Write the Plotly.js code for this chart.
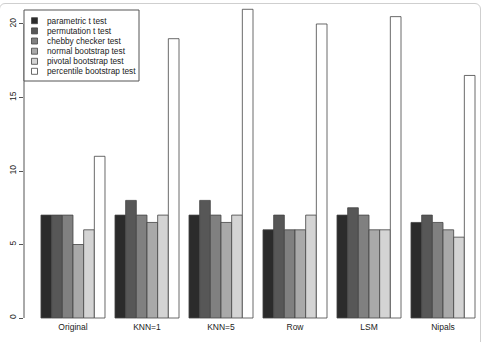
<!DOCTYPE html>
<html>
<head>
<meta charset="utf-8">
<script src="https://cdn.plot.ly/plotly-3.0.1.min.js"></script>
<style>
html,body{margin:0;padding:0;background:#fff;overflow:hidden;}
#frame{position:absolute;left:-1px;top:3px;width:480px;height:360px;border:1px solid #cfcfcf;border-radius:6px;pointer-events:none;z-index:10;}
#chart{position:absolute;left:0;top:0;width:481px;height:342px;}
</style>
</head>
<body>
<div id="chart"></div>
<div id="frame"></div>
<script>
var categories = ["Original", "KNN=1", "KNN=5", "Row", "LSM", "Nipals"];
var seriesNames = ["parametric t test", "permutation t test", "chebby checker test",
                   "normal bootstrap test", "pivotal bootstrap test", "percentile bootstrap test"];
var parametric = [7, 7, 7, 6, 7, 6.5];
var permutation = [7, 8, 8, 7, 7.5, 7];
var chebby = [7, 7, 7, 6, 7, 6.5];
var normalBoot = [5, 6.5, 6.5, 6, 6, 6];
var pivotalBoot = [6, 7, 7, 7, 6, 5.5];
var percentileBoot = [11, 19, 21, 20, 20.5, 16.5];
var yTicks = [0, 5, 10, 15, 20];

var seriesValues = [parametric, permutation, chebby, normalBoot, pivotalBoot, percentileBoot];
var colors = ["#2b2b2b", "#575757", "#808080", "#a9a9a9", "#d4d4d4", "#ffffff"];

var traces = seriesValues.map(function(vals, i) {
  return {
    type: "bar",
    name: seriesNames[i],
    x: categories,
    y: vals,
    marker: {color: colors[i], line: {color: "#444", width: 0.8}},
    showlegend: false,
    hoverinfo: "skip"
  };
});

// pixel helpers for plot area (left 24, right 478, top 4, bottom 320)
var L = 24, R = 478, T = 4, B = 320;
function px2x(px) { return (px - L) / (R - L); }
function py2y(py) { return (B - py) / (B - T); }

var shapes = [];
var annotations = [];
// y axis line spanning tick range (R style)
shapes.push({type: "line", xref: "paper", yref: "y", x0: 0, x1: 0,
  y0: yTicks[0], y1: yTicks[yTicks.length - 1], line: {color: "#555", width: 1}});
// legend box
shapes.push({type: "rect", xref: "paper", yref: "paper",
  x0: px2x(24), x1: px2x(139), y0: py2y(81), y1: py2y(10),
  fillcolor: "#ffffff", line: {color: "#555", width: 1}, layer: "above"});
var rowY = [20.7, 30.9, 41, 51.2, 61.3, 71.3];
seriesNames.forEach(function(n, i) {
  var cy = rowY[i];
  shapes.push({type: "rect", xref: "paper", yref: "paper",
    x0: px2x(31.5), x1: px2x(37.5), y0: py2y(cy + 3), y1: py2y(cy - 3),
    fillcolor: colors[i], line: {color: "#444", width: 0.8}, layer: "above"});
  annotations.push({xref: "paper", yref: "paper", x: px2x(44.5), y: py2y(cy),
    xanchor: "left", yanchor: "middle", text: n, showarrow: false,
    font: {family: "Liberation Sans, Arial, sans-serif", size: 8.3, color: "#222"}});
});

var layout = {
  width: 481, height: 342,
  margin: {l: L, r: 481 - R, t: T, b: 342 - B, pad: 0},
  paper_bgcolor: "#ffffff", plot_bgcolor: "#ffffff",
  font: {family: "Liberation Sans, Arial, sans-serif", size: 8.5, color: "#222"},
  barmode: "group", bargap: 0.135, bargroupgap: 0,
  xaxis: {type: "category", range: [-0.662, 5.473], showgrid: false, zeroline: false,
    showline: false, ticks: "", tickfont: {size: 8.5, color: "#222"}, fixedrange: true},
  yaxis: {range: [-0.136, 21.36], tickvals: yTicks, ticktext: yTicks.map(String),
    showgrid: false, zeroline: false, showline: false, ticks: "outside", ticklen: 4,
    tickcolor: "#555", tickwidth: 1, tickangle: -90,
    tickfont: {size: 8.5, color: "#222"}, fixedrange: true},
  shapes: shapes,
  annotations: annotations,
  showlegend: false
};

Plotly.newPlot("chart", traces, layout, {displayModeBar: false, staticPlot: true});
</script>
</body>
</html>
